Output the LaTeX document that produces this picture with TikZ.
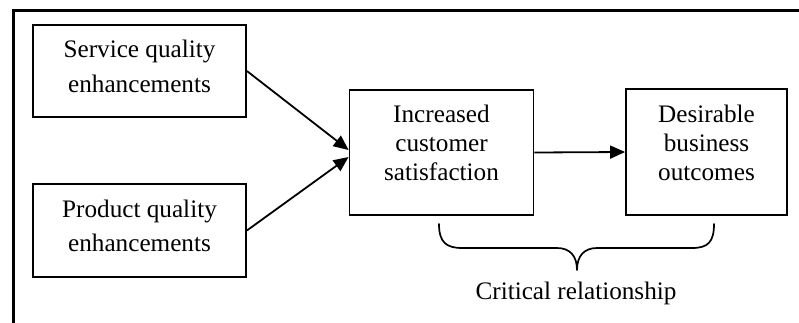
\documentclass[tikz,border=0pt]{standalone}
\usepackage{fontspec}
\setmainfont{Liberation Serif}
\usetikzlibrary{arrows.meta}

\tikzset{
  box/.style={draw, line width=1.8pt, inner sep=0pt, align=center,
              font=\fontsize{25.2}{34.4}\selectfont},
  tallbox/.style={box, font=\fontsize{25.2}{29}\selectfont},
  link/.style={line width=1.8pt, -{Triangle[length=15pt,width=13pt]}},
  frame/.style={line width=3.2pt},
  brace/.style={line width=1.7pt, line cap=round, line join=round}
}

\begin{document}
\begin{tikzpicture}[x=1pt, y=-1pt]
  \useasboundingbox (0,0) rectangle (799,322);
  \clip (0,0) rectangle (799,322);
  \fill[white] (0,0) rectangle (799,322);

  % outer frame (only its top and left edges fall inside the page)
  \draw[frame] (13.5,340) -- (13.5,10.5) -- (820,10.5);

  % boxes
  \node[box, minimum width=213pt, minimum height=92pt, text depth=9.7pt]
    (service) at (139.5,71) {Service quality\\enhancements};
  \node[box, minimum width=213pt, minimum height=93pt, text depth=9pt]
    (product) at (139.5,230.5) {Product quality\\enhancements};
  \node[tallbox, minimum width=184pt, minimum height=125pt, text depth=19pt]
    (satisfaction) at (441.5,152.5) {Increased\\customer\\satisfaction};
  \node[tallbox, minimum width=161pt, minimum height=126pt, text depth=19pt]
    (outcomes) at (706.5,152) {Desirable\\business\\outcomes};

  % connectors
  \draw[link] (service.east) -- ([yshift=2.5pt]satisfaction.west);
  \draw[link] (product.east) -- ([yshift=-4.5pt]satisfaction.west);
  \draw[link] (satisfaction.east) -- (outcomes.west);

  % brace under the satisfaction -> outcomes link
  \draw[brace] (439,224) .. controls (439,242) and (446,248) .. (462,248)
    -- (557,248) .. controls (570,248) and (577,256) .. (577,270)
    .. controls (577,256) and (584,248) .. (597,248)
    -- (692,248) .. controls (708,248) and (714,242) .. (714,224);
  \coordinate (tip) at (577,270);

  \node[font=\fontsize{25.2}{29}\selectfont, anchor=base, inner sep=0pt]
    (critical) at (576,299) {Critical relationship};
\end{tikzpicture}
\end{document}
